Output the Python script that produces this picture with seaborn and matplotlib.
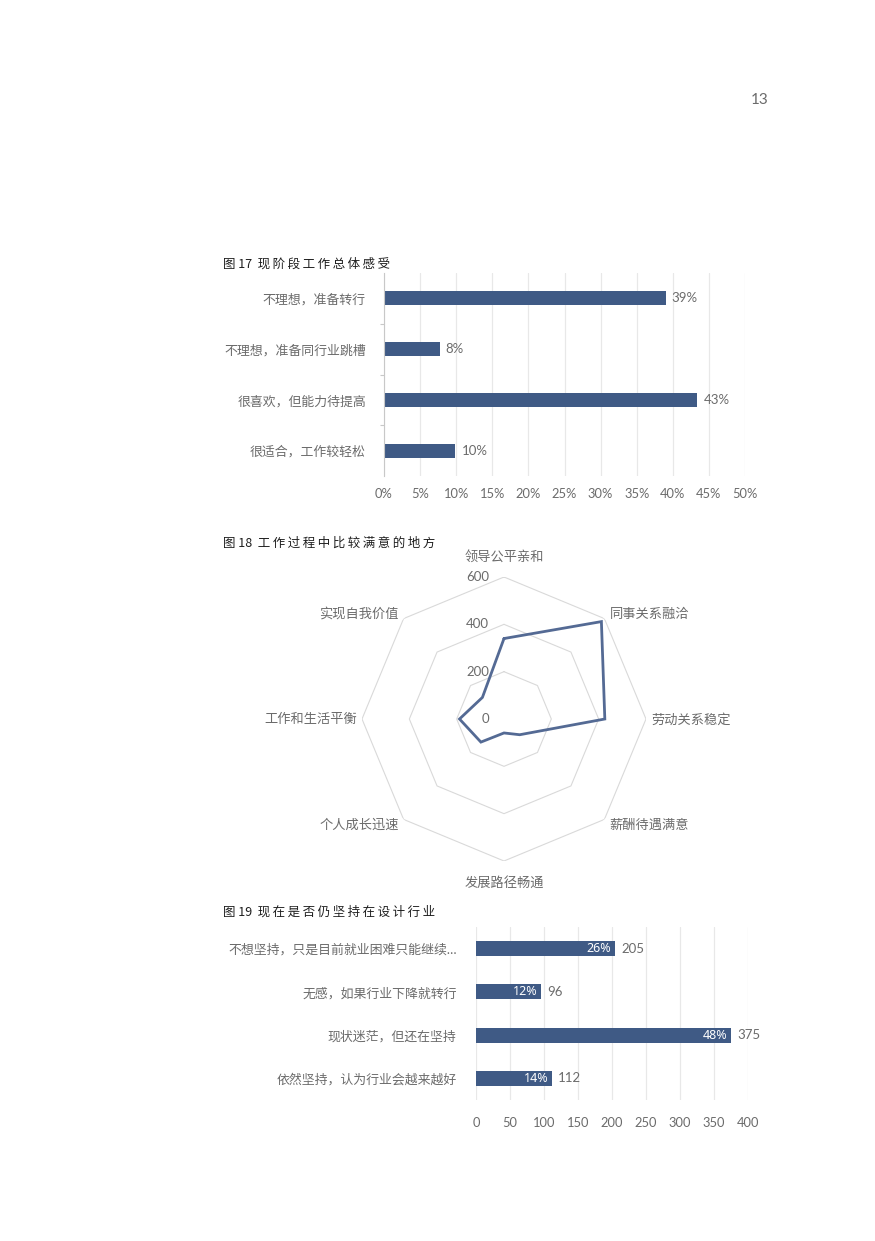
import matplotlib
matplotlib.use("Agg")
import matplotlib.pyplot as plt
import matplotlib.transforms as mtransforms
from matplotlib.ticker import FixedLocator, PercentFormatter
import numpy as np
import pandas as pd
import seaborn as sns

# figure 17: overall feeling about current job (share of answers)
feel_labels = ["不理想，准备转行", "不理想，准备同行业跳槽", "很喜欢，但能力待提高", "很适合，工作较轻松"]
feel_share = [0.39, 0.077, 0.434, 0.099]
feel_ticks = [0, 0.05, 0.10, 0.15, 0.20, 0.25, 0.30, 0.35, 0.40, 0.45, 0.50]

# figure 18: what people are satisfied with (radar, clockwise from top)
radar_labels = ["领导公平亲和", "同事关系融洽", "劳动关系稳定", "薪酬待遇满意",
                "发展路径畅通", "个人成长迅速", "工作和生活平衡", "实现自我价值"]
radar_values = [340, 582, 426, 94, 59, 138, 188, 129]
radar_ticks = [0, 200, 400, 600]

# figure 19: still staying in the design industry?
stay_labels = ["不想坚持，只是目前就业困难只能继续…", "无感，如果行业下降就转行",
               "现状迷茫，但还在坚持", "依然坚持，认为行业会越来越好"]
stay_counts = [205, 96, 375, 112]
stay_ticks = [0, 50, 100, 150, 200, 250, 300, 350, 400]

W, H = 875, 1241
BAR = "#3F5A85"
LINE = "#546A94"
TEXT = "#6B6B6B"
GRID = "#E8E8E8"

sns.set_theme(style="white")
plt.rcParams["font.family"] = ["Lato", "Noto Sans CJK SC", "DejaVu Sans"]
plt.rcParams["font.weight"] = "normal"

fig = plt.figure(figsize=(W / 100, H / 100), dpi=100)
fig.patch.set_facecolor("white")


def px_axes(left, top, right, bottom, **kw):
    return fig.add_axes([left / W, 1 - bottom / H, (right - left) / W, (bottom - top) / H], **kw)


def title(x, y, num, s):
    # the captions use a loosely tracked font, so put thin spaces between the characters
    spaced = "\u2009".join(s)
    fig.text(x / W, 1 - y / H, f"图 {num}  {spaced}", ha="left", va="center", fontsize=9,
             color="#1E1E1E", family=["Noto Sans CJK SC", "DejaVu Sans"], weight="normal")


def hbar(ax, labels, values, width):
    df = pd.DataFrame({"label": labels, "value": values})
    sns.barplot(data=df, y="label", x="value", orient="h", color=BAR, saturation=1,
                width=width, linewidth=0, ax=ax)
    ax.set_ylim(len(labels) - 0.5, -0.5)
    ax.set_xlabel("")
    ax.set_ylabel("")
    for s in ax.spines.values():
        s.set_visible(False)
    ax.grid(axis="x", color=GRID, linewidth=0.9)
    ax.set_axisbelow(True)
    ax.tick_params(axis="both", colors=TEXT, labelsize=9.3, length=0)


# page number
fig.text(760 / W, 1 - 100 / H, "13", ha="center", va="center", fontsize=11, color=TEXT)

# ---- figure 17
title(223, 264, 17, "现阶段工作总体感受")
ax1 = px_axes(384, 273, 745, 476)
hbar(ax1, feel_labels, feel_share, 0.276)
ax1.set_xlim(0, 0.5)
ax1.set_xticks(feel_ticks)
ax1.xaxis.set_major_formatter(PercentFormatter(1.0, decimals=0))
ax1.tick_params(axis="x", pad=9)
ax1.tick_params(axis="y", pad=13)
ax1.spines["left"].set_visible(True)
ax1.spines["left"].set_color("#C8C8C8")
ax1.spines["left"].set_linewidth(0.8)
ax1.yaxis.set_minor_locator(FixedLocator([0.5, 1.5, 2.5]))
ax1.tick_params(axis="y", which="minor", length=3, width=0.8, color="#C8C8C8", left=True)
for i, v in enumerate(feel_share):
    ax1.annotate(f"{v:.0%}", (v, i), xytext=(6, 0), textcoords="offset pixels",
                 ha="left", va="center", fontsize=9.5, color=TEXT)

# ---- figure 18
title(223, 543, 18, "工作过程中比较满意的地方")
r_px = 142
ax2 = px_axes(504 - r_px, 719 - r_px, 504 + r_px, 719 + r_px, projection="polar")
ax2.set_theta_zero_location("N")
ax2.set_theta_direction(-1)
angles = np.linspace(0, 2 * np.pi, len(radar_labels), endpoint=False)
closed = np.append(angles, angles[0])
for t in radar_ticks[1:]:
    ax2.plot(closed, [t] * len(closed), color="#D9D9D9", linewidth=0.8, zorder=1)
ax2.plot(closed, radar_values + radar_values[:1], color=LINE, linewidth=2.0,
         solid_joinstyle="miter", zorder=3)
ax2.set_ylim(0, radar_ticks[-1])
ax2.grid(False)
ax2.set_xticks([])
ax2.set_yticks([])
ax2.spines["polar"].set_visible(False)
ax2.patch.set_visible(False)
for t in radar_ticks:
    tr = mtransforms.offset_copy(ax2.transData, fig=fig, x=-15, y=0, units="dots")
    ax2.text(0, t, str(t), transform=tr, ha="right", va="center", fontsize=9.5,
             color=TEXT, clip_on=False)
for a, lab in zip(angles, radar_labels):
    s, c = np.sin(a), np.cos(a)
    if abs(s) < 1e-6:
        ha, dx, dy = "center", 0, 21 * np.sign(c)
    else:
        ha = "left" if s > 0 else "right"
        dx = 5 * np.sign(s)
        dy = 5 * np.sign(c) if abs(c) > 1e-6 else 0
    tr = mtransforms.offset_copy(ax2.transData, fig=fig, x=dx, y=dy, units="dots")
    ax2.text(a, radar_ticks[-1], lab, transform=tr, ha=ha, va="center",
             fontsize=9.5, color=TEXT, clip_on=False)

# ---- figure 19
title(223, 912, 19, "现在是否仍坚持在设计行业")
ax3 = px_axes(476, 927, 748, 1100)
hbar(ax3, stay_labels, stay_counts, 0.35)
ax3.set_xlim(0, 400)
ax3.set_xticks(stay_ticks)
ax3.tick_params(axis="x", pad=12)
ax3.tick_params(axis="y", pad=14)
total = sum(stay_counts)
for i, v in enumerate(stay_counts):
    ax3.annotate(f"{v / total:.0%}", (v, i), xytext=(-4, 0), textcoords="offset pixels",
                 ha="right", va="center", fontsize=9, color="white",
                 family=["Noto Sans", "DejaVu Sans"])
    ax3.annotate(str(v), (v, i), xytext=(6, 0), textcoords="offset pixels",
                 ha="left", va="center", fontsize=9.5, color=TEXT)

fig.savefig("out.png", dpi=100, facecolor="white")
